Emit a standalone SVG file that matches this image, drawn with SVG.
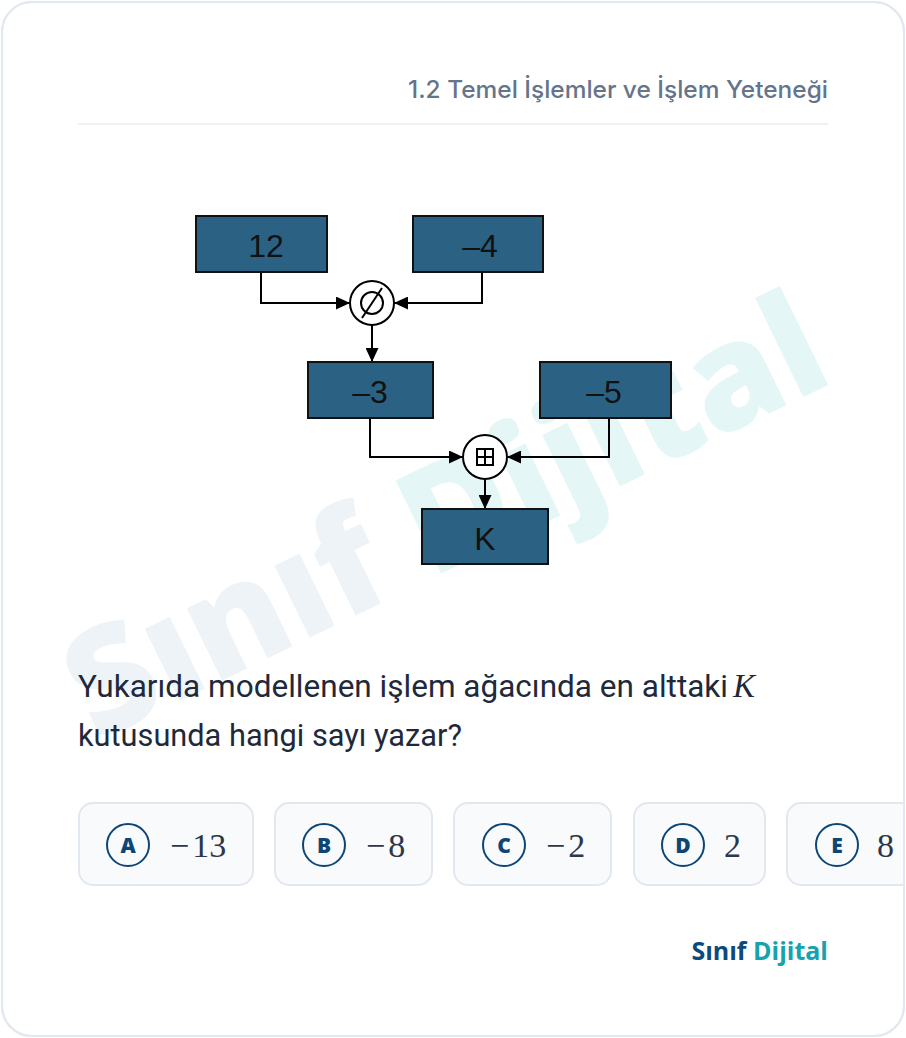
<svg xmlns="http://www.w3.org/2000/svg" width="906" height="1038" viewBox="0 0 906 1038">
<defs>
<marker id="arr" markerUnits="userSpaceOnUse" markerWidth="15" markerHeight="13" refX="14" refY="6.5" orient="auto">
<path d="M0,0 L14,6.5 L0,13 Z" fill="#000"/>
</marker>
<clipPath id="card"><rect x="2" y="2" width="902" height="1034" rx="30"/></clipPath>
</defs>
<style>
.box{fill:#2b6283;stroke:#111;stroke-width:2}
.bt{font-family:"Liberation Sans",Arial,sans-serif;font-size:32px;fill:#111;text-anchor:middle}
.con{fill:none;stroke:#000;stroke-width:2;marker-end:url(#arr)}
.op{fill:#fff;stroke:#000;stroke-width:2}
.opt{fill:#f8fafc;stroke:#e2e8f0;stroke-width:2}
.oc{fill:none;stroke:#0d4676;stroke-width:2}
.ol{font-family:"Open Sans","DejaVu Sans",sans-serif;font-weight:800;font-size:21px;fill:#0d4676;text-anchor:middle}
.ov{font-family:"Liberation Serif","DejaVu Serif",serif;font-size:34px;fill:#2d3748}
</style>
<rect x="2" y="2" width="902" height="1034" rx="30" fill="#fff" stroke="#e2e8f0" stroke-width="2"/>
<g id="watermark" font-family="'Open Sans','DejaVu Sans',sans-serif" font-weight="800" font-size="145">
<text transform="translate(96,742) rotate(-26)"><tspan fill="#eef3f8">Sınıf </tspan><tspan fill="#e5f6f7">Dijital</tspan></text>
</g>
<g id="header">
<text x="828" y="98" text-anchor="end" font-family="Inter,'Noto Sans',sans-serif" font-weight="500" font-size="24" fill="#64748b" textLength="420" lengthAdjust="spacingAndGlyphs">1.2 Temel İşlemler ve İşlem Yeteneği</text>
<line x1="78" y1="124" x2="828" y2="124" stroke="#eef1f5" stroke-width="2"/>
</g>
<g id="connectors">
<path class="con" d="M261,272 V303 H350"/>
<path class="con" d="M482,272 V303 H394"/>
<path class="con" d="M372,325 V362"/>
<path class="con" d="M370,418 V457 H463"/>
<path class="con" d="M609,418 V457 H507"/>
<path class="con" d="M485,479 V509"/>
</g>
<g id="n12"><rect class="box" x="196" y="216" width="131" height="56"/><text class="bt" x="266" y="257">12</text></g>
<g id="nm4"><rect class="box" x="413" y="216" width="130" height="56"/><text class="bt" x="480" y="257">–4</text></g>
<g id="op1"><circle class="op" cx="372" cy="303" r="22"/><circle cx="372" cy="303" r="11" fill="none" stroke="#000" stroke-width="2"/><line x1="362" y1="318" x2="382" y2="288" stroke="#000" stroke-width="2"/></g>
<g id="nm3"><rect class="box" x="308" y="362" width="125" height="56"/><text class="bt" x="370" y="403">–3</text></g>
<g id="nm5"><rect class="box" x="540" y="362" width="131" height="56"/><text class="bt" x="604" y="403">–5</text></g>
<g id="op2"><circle class="op" cx="485" cy="457" r="22"/><rect x="477" y="449" width="16" height="16" fill="none" stroke="#000" stroke-width="2"/><line x1="485" y1="449" x2="485" y2="465" stroke="#000" stroke-width="2"/><line x1="477" y1="457" x2="493" y2="457" stroke="#000" stroke-width="2"/></g>
<g id="nK"><rect class="box" x="422" y="509" width="126" height="55"/><text class="bt" x="485" y="550">K</text></g>
<g id="question" font-family="Roboto,'Noto Sans',sans-serif" font-size="31" fill="#1e293b">
<text x="78" y="697" textLength="650" lengthAdjust="spacingAndGlyphs">Yukarıda modellenen işlem ağacında en alttaki</text>
<text x="733" y="697" font-family="'Liberation Serif',serif" font-style="italic" font-size="33">K</text>
<text x="78" y="746" textLength="384" lengthAdjust="spacingAndGlyphs">kutusunda hangi sayı yazar?</text>
</g>
<g id="options" clip-path="url(#card)">
<g id="optA"><rect class="opt" x="79" y="803" width="174" height="82" rx="14"/><circle class="oc" cx="128" cy="845" r="21"/><text class="ol" x="128" y="852.5">A</text><text class="ov" x="170" y="857">−<tspan dx="3">13</tspan></text></g>
<g id="optB"><rect class="opt" x="275" y="803" width="157" height="82" rx="14"/><circle class="oc" cx="324" cy="845" r="21"/><text class="ol" x="324" y="852.5">B</text><text class="ov" x="366" y="857">−<tspan dx="3">8</tspan></text></g>
<g id="optC"><rect class="opt" x="454" y="803" width="157" height="82" rx="14"/><circle class="oc" cx="504" cy="845" r="21"/><text class="ol" x="504" y="852.5">C</text><text class="ov" x="546" y="857">−<tspan dx="3">2</tspan></text></g>
<g id="optD"><rect class="opt" x="634" y="803" width="131" height="82" rx="14"/><circle class="oc" cx="683" cy="845" r="21"/><text class="ol" x="683" y="852.5">D</text><text class="ov" x="724" y="857">2</text></g>
<g id="optE"><rect class="opt" x="787" y="803" width="131" height="82" rx="14"/><circle class="oc" cx="837" cy="845" r="21"/><text class="ol" x="837" y="852.5">E</text><text class="ov" x="877" y="857">8</text></g>
</g>
<rect x="2" y="2" width="902" height="1034" rx="30" fill="none" stroke="#e2e8f0" stroke-width="2"/>
<g id="footer">
<text x="828" y="960" text-anchor="end" font-family="'Open Sans','DejaVu Sans',sans-serif" font-weight="700" font-size="25"><tspan fill="#0c4a7c">Sınıf </tspan><tspan fill="#17a2b0">Dijital</tspan></text>
</g>
</svg>
